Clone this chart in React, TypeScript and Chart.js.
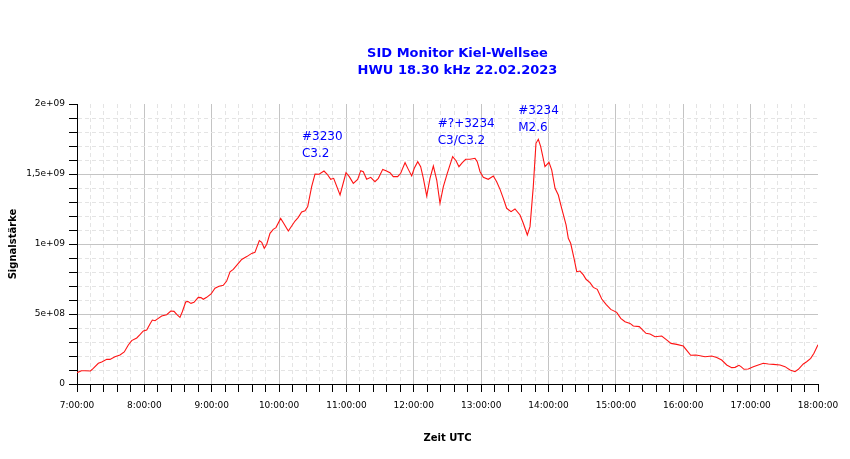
import React, { useEffect, useRef } from "react";
import { Chart, registerables } from "chart.js";

Chart.register(...registerables);

// time of day in minutes (UTC)
const timeMinutes = [
  420, 424, 427, 432, 434.5, 439, 442, 446.5, 449.4, 453.8, 458.3, 462.1, 465.7, 468.7, 473.2, 476.1,
  479.1, 482.1, 485, 487.1, 489.5, 492.4, 495.4, 499.9, 503.5, 506.4, 508.8, 511.7, 513.8, 516.8, 518.6,
  521.5, 524.2, 528, 530.4, 532.5, 535.5, 539.4, 542.9, 546.5, 550.3, 553.3, 556.3, 559.2, 563.7, 566.7,
  571.2, 575.6, 578.5, 582.4, 584.5, 586.8, 589, 591.9, 594.8, 597.2, 601.4, 603.8, 608.2, 611.2, 614.2,
  617.1, 620.1, 623.1, 625.5, 629, 632, 635.6, 640, 642.9, 646, 648.6, 654.3, 659.6, 662.5, 666.1, 670,
  672.7, 675, 678, 681.6, 685.4, 688.4, 692.3, 695.2, 698.8, 701.7, 705.6, 708.3, 712.2, 715.1, 718.1,
  720.4, 723.5, 726.1, 728.5, 731.5, 734.4, 737.4, 740.4, 743.3, 746.3, 749.8, 754.6, 757.6, 760.2,
  763.2, 766.2, 770, 774.5, 776.5, 779, 781.9, 786.3, 790.8, 793.8, 796.8, 799.7, 802.7, 806.6, 810.1,
  814.6, 817.5, 821.1, 823.5, 826.4, 828.8, 830.9, 833, 836.8, 840.4, 842.8, 845.8, 848.7, 851.7, 855.6,
  857.6, 859.7, 862.7, 865.1, 868, 871, 873.4, 876.9, 879.9, 883.4, 887.4, 891.2, 895.4, 900.7, 904.3,
  908.1, 912.6, 915.5, 920.8, 926.8, 930.4, 934.8, 940.8, 944.6, 949.1, 954.2, 960, 964, 966.6, 971.3,
  974.9, 979.4, 985.3, 989.8, 994.2, 998.7, 1003.1, 1006.1, 1009.6, 1011.4, 1014.1, 1017.9, 1022.4,
  1026.8, 1031.3, 1035.8, 1040.2, 1046.2, 1050.6, 1055.1, 1059.5, 1062.5, 1066.9, 1069.9, 1073.5,
  1076.4, 1080,
];

const signalStrength = [
  81e6, 95e6, 95e6, 93e6, 112e6, 148e6, 157e6, 176e6, 176e6, 195e6, 207e6, 229e6, 279e6, 310e6, 329e6, 352e6,
  379e6, 386e6, 429e6, 457e6, 452e6, 469e6, 486e6, 495e6, 521e6, 519e6, 498e6, 476e6, 516e6, 586e6, 590e6,
  576e6, 584e6, 619e6, 617e6, 605e6, 619e6, 643e6, 684e6, 698e6, 705e6, 735e6, 802e6, 819e6, 862e6, 890e6,
  910e6, 933e6, 940e6, 1024e6, 1012e6, 969e6, 998e6, 1076e6, 1105e6, 1117e6, 1183e6, 1152e6, 1093e6, 1129e6, 1164e6,
  1190e6, 1229e6, 1238e6, 1267e6, 1410e6, 1500e6, 1498e6, 1521e6, 1498e6, 1462e6, 1469e6, 1350e6, 1509e6, 1481e6, 1433e6, 1462e6,
  1524e6, 1516e6, 1462e6, 1476e6, 1445e6, 1469e6, 1533e6, 1524e6, 1509e6, 1481e6, 1481e6, 1505e6, 1581e6, 1533e6, 1486e6,
  1541e6, 1588e6, 1552e6, 1469e6, 1343e6, 1469e6, 1557e6, 1457e6, 1291e6, 1410e6, 1505e6, 1624e6, 1595e6, 1552e6,
  1581e6, 1605e6, 1605e6, 1612e6, 1588e6, 1516e6, 1476e6, 1462e6, 1486e6, 1445e6, 1390e6, 1326e6, 1255e6, 1231e6, 1250e6,
  1207e6, 1148e6, 1064e6, 1124e6, 1410e6, 1719e6, 1748e6, 1695e6, 1552e6, 1583e6, 1529e6, 1398e6, 1350e6, 1255e6, 1136e6,
  1041e6, 1005e6, 898e6, 802e6, 807e6, 779e6, 748e6, 724e6, 690e6, 676e6, 607e6, 569e6, 533e6, 512e6, 469e6,
  445e6, 433e6, 414e6, 410e6, 362e6, 357e6, 338e6, 343e6, 319e6, 290e6, 283e6, 271e6, 231e6, 205e6, 207e6,
  202e6, 195e6, 200e6, 190e6, 171e6, 136e6, 117e6, 119e6, 133e6, 124e6, 105e6, 107e6, 124e6,
  136e6, 148e6, 143e6, 140e6, 136e6, 124e6, 100e6, 88e6, 105e6, 143e6, 159e6, 183e6,
  219e6, 280e6,
];

const xTickMinutes = [420, 480, 540, 600, 660, 720, 780, 840, 900, 960, 1020, 1080];
const xTickLabels = [
  "7:00:00", "8:00:00", "9:00:00", "10:00:00", "11:00:00", "12:00:00",
  "13:00:00", "14:00:00", "15:00:00", "16:00:00", "17:00:00", "18:00:00",
];
const yTickValues = [0, 5e8, 1e9, 1.5e9, 2e9];
const yTickLabels = ["0", "5e+08", "1e+09", "1,5e+09", "2e+09"];

const titleLines = ["SID Monitor Kiel-Wellsee", "HWU 18.30 kHz 22.02.2023"];
const xAxisTitle = "Zeit UTC";
const yAxisTitle = "Signalstärke";

const noteTimes = [620.4, 741.3, 813];
const noteValues = [1.766e9, 1.855e9, 1.952e9];
const noteLines = [
  ["#3230", "C3.2"],
  ["#?+3234", "C3/C3.2"],
  ["#3234", "M2.6"],
];

const X_MIN = 420;
const X_MAX = 1080;
const Y_MIN = 0;
const Y_MAX = 2e9;
const BLUE = "rgb(0,0,255)";
const FONT = "'DejaVu Sans', Verdana, sans-serif";

const isMajorX = (v: number) => xTickMinutes.indexOf(v) >= 0;
const isMajorY = (v: number) => yTickValues.some((t) => Math.abs(t - v) < 1);

const textPlugin = {
  id: "textPlugin",
  afterDatasetsDraw(chart: any) {
    const { ctx, chartArea, scales } = chart;
    ctx.save();
    // title
    ctx.fillStyle = BLUE;
    ctx.font = `bold 13px ${FONT}`;
    ctx.textAlign = "center";
    ctx.textBaseline = "middle";
    const cx = (chartArea.left + chartArea.right) / 2 + 10;
    titleLines.forEach((line, i) => {
      ctx.fillText(line, cx, chartArea.top - 50 + i * 17);
    });
    // flare notes
    ctx.font = `12px ${FONT}`;
    ctx.textAlign = "left";
    noteLines.forEach((lines, i) => {
      const x = scales.x.getPixelForValue(noteTimes[i]);
      const y = scales.y.getPixelForValue(noteValues[i]);
      lines.forEach((t, j) => ctx.fillText(t, x, y + j * 17));
    });
    ctx.restore();
  },
};

export default function App() {
  const ref = useRef<HTMLCanvasElement | null>(null);

  useEffect(() => {
    if (!ref.current) return;
    const chart = new Chart(ref.current, {
      type: "line",
      data: {
        datasets: [
          {
            data: timeMinutes.map((m, i) => ({ x: m, y: signalStrength[i] })),
            borderColor: "rgb(255,20,20)",
            borderWidth: 1.1,
            pointRadius: 0,
            tension: 0,
            fill: false,
          },
        ],
      },
      options: {
        animation: false,
        responsive: false,
        layout: { padding: { top: 104, right: 32, bottom: 0, left: 0 } },
        plugins: {
          legend: { display: false },
          tooltip: { enabled: false },
          title: { display: false },
        },
        scales: {
          x: {
            type: "linear",
            min: X_MIN,
            max: X_MAX,
            afterFit: (s: any) => {
              s.height = 75;
            },
            ticks: {
              stepSize: 12,
              autoSkip: false,
              maxRotation: 0,
              minRotation: 0,
              padding: 8,
              color: "#000",
              font: { family: FONT, size: 9 },
              callback: (v: any) => {
                const i = xTickMinutes.indexOf(Number(v));
                return i >= 0 ? xTickLabels[i] : "";
              },
            },
            grid: {
              color: (c: any) => {
                const v = c.tick ? c.tick.value : 0;
                if (v === X_MAX) return "rgba(0,0,0,0)";
                return isMajorX(v) ? "#c4c4c4" : "#e4e4e4";
              },
              tickColor: "#000",
              tickLength: 8,
              lineWidth: 1,
            },
            border: {
              color: "#000",
              width: 1,
              dash: (c: any) => (c.tick && !isMajorX(c.tick.value) ? [4, 3] : []),
            },
            title: {
              display: true,
              text: xAxisTitle,
              color: "#000",
              font: { family: FONT, size: 10, weight: "bold" },
              padding: { top: 0, bottom: 15 },
            },
          },
          y: {
            type: "linear",
            min: Y_MIN,
            max: Y_MAX,
            afterFit: (s: any) => {
              s.width = 77;
            },
            ticks: {
              stepSize: 1e8,
              autoSkip: false,
              padding: 4,
              color: "#000",
              font: { family: FONT, size: 9 },
              callback: (v: any) => {
                const i = yTickValues.findIndex((t) => Math.abs(t - Number(v)) < 1);
                return i >= 0 ? yTickLabels[i] : "";
              },
            },
            grid: {
              color: (c: any) => {
                const v = c.tick ? c.tick.value : 0;
                if (Math.abs(v - Y_MAX) < 1) return "rgba(0,0,0,0)";
                return isMajorY(v) ? "#c4c4c4" : "#e4e4e4";
              },
              tickColor: "#000",
              tickLength: 8,
              lineWidth: 1,
            },
            border: {
              color: "#000",
              width: 1,
              dash: (c: any) => (c.tick && !isMajorY(c.tick.value) ? [4, 3] : []),
            },
            title: {
              display: true,
              text: yAxisTitle,
              color: "#000",
              font: { family: FONT, size: 10, weight: "bold" },
              padding: { top: 7, bottom: 0 },
            },
          },
        },
      },
      plugins: [textPlugin],
    } as any);
    return () => chart.destroy();
  }, []);

  return (
    <div style={{ position: "absolute", left: 0, top: 0, width: 850, height: 459, background: "#fff" }}>
      <canvas ref={ref} width={850} height={459} style={{ display: "block" }} />
    </div>
  );
}
